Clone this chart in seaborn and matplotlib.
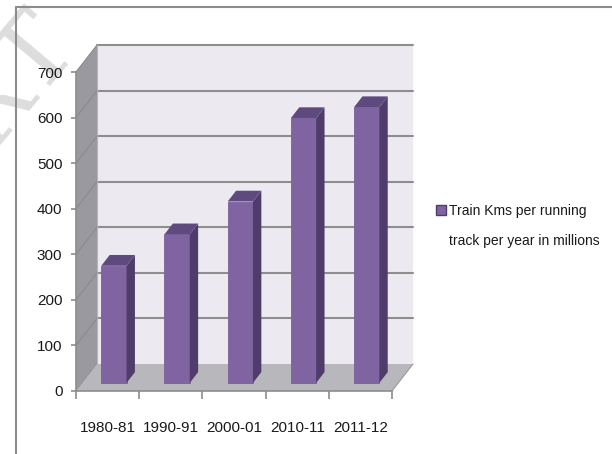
import matplotlib
matplotlib.use("Agg")
import matplotlib.pyplot as plt
from matplotlib.patches import Polygon, Rectangle
from matplotlib.lines import Line2D
import seaborn as sns
import pandas as pd

periods = ["1980-81", "1990-91", "2000-01", "2010-11", "2011-12"]
train_kms = [257, 326, 398, 581, 605]
legend_lines = ["Train Kms per running", "track per year in millions"]
y_ticks = [0, 100, 200, 300, 400, 500, 600, 700]

sns.set_style("white")
plt.rcParams['font.family'] = ['Liberation Sans', 'DejaVu Sans']

W, H = 612, 454
fig = plt.figure(figsize=(W / 100, H / 100), dpi=100)
ax = fig.add_axes([76 / W, (H - 391) / H, (392 - 76) / W, (391 - 72) / H])

df = pd.DataFrame({"period": periods, "value": train_kms})
sns.barplot(data=df, x="period", y="value", width=0.4, color="#8064A2",
            saturation=1, ax=ax, zorder=4, edgecolor="#7a5f9c", linewidth=0.6)
ax.set_xlim(-0.5, 4.5)
ax.set_ylim(0, 700)

# depth offsets (data units) for full floor depth: 21 px right, 27 px up
DX = 21 / (316 / 5)
DY = 27 / (319 / 700)
f0, f1 = 0.3, 0.7

# back wall
ax.add_patch(Polygon([(-0.5 + DX, DY), (4.5 + DX, DY), (4.5 + DX, 700 + DY), (-0.5 + DX, 700 + DY)],
                     closed=True, facecolor="#ECEAF0", edgecolor="none", zorder=0, clip_on=False))
# side wall
ax.add_patch(Polygon([(-0.5, 0), (-0.5, 700), (-0.5 + DX, 700 + DY), (-0.5 + DX, DY)],
                     closed=True, facecolor="#9A99A0", edgecolor="none", zorder=0.5, clip_on=False))
# floor
ax.add_patch(Polygon([(-0.5, 0), (4.5, 0), (4.5 + DX, DY), (-0.5 + DX, DY)],
                     closed=True, facecolor="#B8B7BC", edgecolor="none", zorder=1, clip_on=False))
# gridlines
for t in y_ticks:
    if t > 0:
        ax.add_line(Line2D([-0.5 + DX, 4.5 + DX], [t + DY, t + DY], color="#8E8E8E", lw=1.5,
                           zorder=0.8, clip_on=False))
    ax.add_line(Line2D([-0.5, -0.5 + DX], [t, t + DY], color="#8a8a8e", lw=0.8,
                       zorder=0.9, clip_on=False))
ax.add_line(Line2D([-0.5 + DX, -0.5 + DX], [DY, 700 + DY], color="#B5B5B8", lw=0.8, zorder=0.9, clip_on=False))
ax.add_line(Line2D([4.5, 4.5 + DX], [0, DY], color="#9a9a9a", lw=0.8, zorder=1.1, clip_on=False))

# 3D bars
bdx, bdy = (f1 - f0) * DX, (f1 - f0) * DY
for p in ax.patches:
    if not isinstance(p, Rectangle) or p.get_width() > 1:
        continue
    x, w, h = p.get_x(), p.get_width(), p.get_height()
    x = x + f0 * DX
    y0 = f0 * DY
    p.set_x(x)
    p.set_y(y0)
    p.set_clip_on(False)
    ax.add_patch(Polygon([(x + w, y0), (x + w, y0 + h), (x + w + bdx, y0 + h + bdy), (x + w + bdx, y0 + bdy)],
                         closed=True, facecolor="#4F3C6B", edgecolor="none", zorder=4, clip_on=False))
    ax.add_patch(Polygon([(x, y0 + h), (x + w, y0 + h), (x + w + bdx, y0 + h + bdy), (x + bdx, y0 + h + bdy)],
                         closed=True, facecolor="#5F4A80", edgecolor="none", zorder=4, clip_on=False))

# axes styling
for s in ["top", "right"]:
    ax.spines[s].set_visible(False)
for s in ["left", "bottom"]:
    ax.spines[s].set_color("#8C8C8C")
    ax.spines[s].set_linewidth(1.2)
    ax.spines[s].set_zorder(5)
ax.set_xlabel("")
ax.set_ylabel("")
ax.set_yticks(y_ticks)
ax.set_yticklabels([str(t) for t in y_ticks])
ax.set_xticks(range(len(periods)))
ax.set_xticklabels(periods)
ax.set_xticks([i - 0.5 for i in range(len(periods) + 1)], minor=True)
ax.tick_params(axis="y", which="major", left=True, length=3.6, width=1.2, color="#8C8C8C",
               labelsize=11, pad=6.2, labelcolor="#1a1a1a")
ax.tick_params(axis="x", which="major", bottom=False, length=0, labelsize=11, pad=21.5,
               labelcolor="#1a1a1a")
ax.tick_params(axis="x", which="minor", bottom=True, length=5.8, width=1.2, color="#8C8C8C")
ax.grid(False)

# legend (two lines; marker on the first line)
h1 = Rectangle((0, 0), 1, 1, facecolor="#8064A2", edgecolor="#4F3C6B", linewidth=1)
h2 = Rectangle((0, 0), 1, 1, facecolor="none", edgecolor="none")
leg = fig.legend([h1, h2], legend_lines, loc="upper left",
                 bbox_to_anchor=(436 / W, 1 - 204 / H), frameon=False,
                 fontsize=10, handlelength=0.75, handleheight=0.75, handletextpad=0.2,
                 labelspacing=1.15, borderpad=0, borderaxespad=0)
for t in leg.get_texts():
    t.set_color("#1a1a1a")

# chart border
fig.add_artist(Line2D([16 / W, 1], [1 - 7 / H, 1 - 7 / H], color="#8C8C8C", lw=1.5,
                      transform=fig.transFigure))
fig.add_artist(Line2D([16 / W, 16 / W], [0, 1 - 7 / H], color="#8C8C8C", lw=1.5,
                      transform=fig.transFigure))

# faint watermark
fig.text(59 / W, 1 - 27 / H, "ERT", rotation=50, rotation_mode="anchor", fontsize=72,
         family="DejaVu Serif", color="#DDDDDD", ha="right", va="center", zorder=-1)

fig.savefig("out.png", dpi=100)
